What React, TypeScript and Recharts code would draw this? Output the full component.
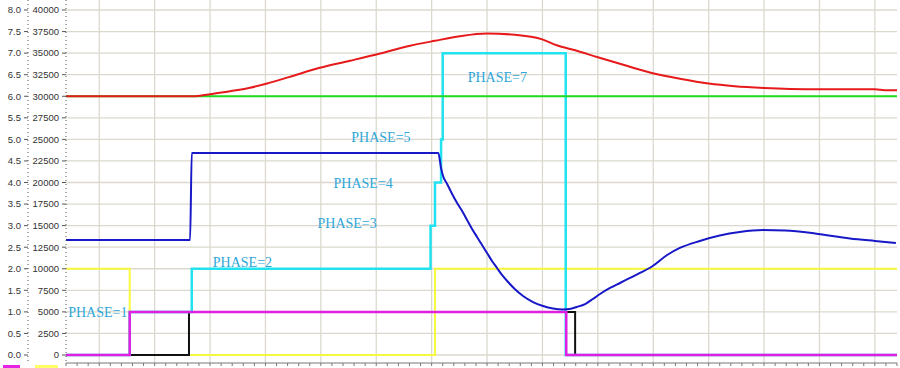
import React from "react";
import { LineChart, Line, XAxis, YAxis, CartesianGrid, ReferenceDot } from "recharts";

// left axis (phase scale) and second axis (amount scale) share the same grid
const phaseTicks = [0, 0.5, 1, 1.5, 2, 2.5, 3, 3.5, 4, 4.5, 5, 5.5, 6, 6.5, 7, 7.5, 8];
const amountTicks = [
  0, 2500, 5000, 7500, 10000, 12500, 15000, 17500, 20000, 22500, 25000, 27500, 30000, 32500,
  35000, 37500, 40000,
];
const timeGrid = [0, 10, 20, 30, 40, 50, 60, 70, 80, 90, 100, 110, 120, 130, 140];
const timeMinor = Array.from({ length: 76 }, (_, i) => -6 + i * 2);

// step series on the 0..8 axis: [time, value]
const yellowPts: [number, number][] = [[-6, 2], [5.5, 0], [60.6, 2], [144, 2]];
const blackPts: [number, number][] = [[-6, 0], [16.2, 1], [85.9, 0], [144, 0]];
const magentaPts: [number, number][] = [[-6, 0], [5.5, 1], [84.3, 0], [144, 0]];
const cyanPts: [number, number][] = [
  [-6, 0], [5.5, 1], [16.7, 2], [59.8, 3], [60.6, 4], [61.7, 5], [62.0, 7], [84.2, 0], [144, 0],
];

// series on the 0..40000 axis: [time, value]
const greenPts: [number, number][] = [[-6, 30000], [144, 30000]];
const redPts: [number, number][] = [
  [-6, 30000], [16.4, 30000], [18.2, 30060], [20.0, 30230], [23.6, 30580], [27.2, 30990],
  [30.3, 31470], [34.4, 32250], [39.8, 33300], [45.3, 34120], [50.7, 34950], [56.1, 35850],
  [60.6, 36430], [65.1, 36960], [70.0, 37270], [75.0, 37130], [80.1, 36570], [82.6, 35910],
  [85.9, 35330], [90.0, 34520], [94.9, 33590], [99.9, 32670], [104.8, 32030], [110.0, 31470],
  [114.7, 31160], [120.0, 30960], [124.7, 30850], [130.1, 30810], [140.0, 30810], [141.8, 30700],
  [144, 30700],
];
const bluePts: [number, number][] = [
  [-6, 13330], [16.4, 13330], [16.7, 23420], [61.2, 23420], [61.7, 21680], [62.0, 20870],
  [62.8, 19830], [63.7, 18670], [64.6, 17620], [65.5, 16700], [66.4, 15650], [67.3, 14610],
  [68.2, 13680], [69.1, 12750], [70.0, 11830], [70.9, 10900], [71.8, 10090], [72.7, 9280],
  [73.8, 8460], [75.0, 7650], [76.5, 6840], [78.3, 6140], [80.1, 5680], [81.9, 5390],
  [83.7, 5280], [84.9, 5330], [86.2, 5570], [87.7, 5910], [89.1, 6490], [90.4, 7070],
  [92.2, 7770], [94.0, 8350], [95.8, 8930], [97.6, 9510], [99.9, 10320], [102.5, 11590],
  [104.8, 12410], [108.4, 13220], [112.0, 13850], [115.6, 14260], [119.8, 14490], [123.8, 14430],
  [129.2, 14090], [135.5, 13510], [140.0, 13220], [143.8, 12990],
];

const phaseLabels = [
  { text: "PHASE=1", t: -5.6, v: 0.99 },
  { text: "PHASE=2", t: 20.5, v: 2.16 },
  { text: "PHASE=3", t: 39.4, v: 3.06 },
  { text: "PHASE=4", t: 42.3, v: 3.99 },
  { text: "PHASE=5", t: 45.5, v: 5.05 },
  { text: "PHASE=7", t: 66.5, v: 6.44 },
];

const legendColors = ["#e426e4", "#ffff66"];

const toRows = (pts: [number, number][]) => pts.map(([t, v]) => ({ t, v }));

const axisFont = { fontSize: 9.5, fill: "#333", fontFamily: "Liberation Sans, Arial, sans-serif" };

export default function App() {
  return (
    <div style={{ position: "absolute", left: 0, top: 0, width: 900, height: 368, background: "#fff", overflow: "hidden" }}>
      <LineChart width={900} height={368} margin={{ top: 0, right: 3, left: 0, bottom: 0 }}>
        <CartesianGrid
          yAxisId="phase"
          stroke="#dcd8ce"
          strokeWidth={1.3}
          horizontalValues={phaseTicks}
          verticalValues={timeGrid}
        />
        <XAxis
          dataKey="t"
          type="number"
          domain={[-6, 144]}
          allowDataOverflow
          ticks={timeMinor}
          interval={0}
          height={5}
          tickSize={3}
          tick={() => <g />}
          axisLine={{ stroke: "#777" }}
          tickLine={{ stroke: "#777" }}
        />
        <YAxis
          yAxisId="amount"
          width={38}
          domain={[-927.5, 41159.5]}
          allowDataOverflow
          ticks={amountTicks}
          interval={0}
          tickSize={4}
          tickMargin={3}
          tick={axisFont}
          axisLine={{ stroke: "#555", strokeDasharray: "1 3" }}
          tickLine={{ stroke: "#555" }}
        />
        <YAxis
          yAxisId="phase"
          width={28}
          domain={[-0.1855, 8.2319]}
          allowDataOverflow
          ticks={phaseTicks}
          interval={0}
          tickSize={4}
          tickMargin={3}
          tickFormatter={(v: number) => v.toFixed(1)}
          tick={axisFont}
          axisLine={{ stroke: "#555", strokeDasharray: "1 3" }}
          tickLine={{ stroke: "#555" }}
        />
        <Line yAxisId="phase" data={toRows(yellowPts)} dataKey="v" type="stepAfter" stroke="#f8f83c" strokeWidth={2} dot={false} activeDot={false} isAnimationActive={false} />
        <Line yAxisId="phase" data={toRows(blackPts)} dataKey="v" type="stepAfter" stroke="#111" strokeWidth={2} dot={false} activeDot={false} isAnimationActive={false} />
        <Line yAxisId="phase" data={toRows(cyanPts)} dataKey="v" type="stepAfter" stroke="#22e2f0" strokeWidth={2.5} dot={false} activeDot={false} isAnimationActive={false} />
        <Line yAxisId="phase" data={toRows(magentaPts)} dataKey="v" type="stepAfter" stroke="#e020e0" strokeWidth={2.5} dot={false} activeDot={false} isAnimationActive={false} />
        <Line yAxisId="amount" data={toRows(greenPts)} dataKey="v" type="linear" stroke="#1fdc1f" strokeWidth={2.2} dot={false} activeDot={false} isAnimationActive={false} />
        <Line yAxisId="amount" data={toRows(redPts)} dataKey="v" type="monotone" stroke="#e61a1a" strokeWidth={2} dot={false} activeDot={false} isAnimationActive={false} />
        <Line yAxisId="amount" data={toRows(bluePts)} dataKey="v" type="monotone" stroke="#1818c8" strokeWidth={2} dot={false} activeDot={false} isAnimationActive={false} />
        {phaseLabels.map((p) => (
          <ReferenceDot
            key={p.text}
            yAxisId="phase"
            x={p.t}
            y={p.v}
            r={0}
            fill="none"
            stroke="none"
            label={{
              value: p.text,
              position: "right",
              offset: 0,
              fill: "#2fa6d8",
              fontSize: 14,
              fontFamily: "Liberation Serif, Times New Roman, serif",
            }}
          />
        ))}
      </LineChart>
      <div style={{ position: "absolute", left: 0, top: 365, display: "flex" }}>
        {legendColors.map((c, i) => (
          <span key={c} style={{ display: "block", width: i === 0 ? 17 : 23, height: 3, marginLeft: i === 0 ? 3 : 15, background: c }} />
        ))}
      </div>
    </div>
  );
}
